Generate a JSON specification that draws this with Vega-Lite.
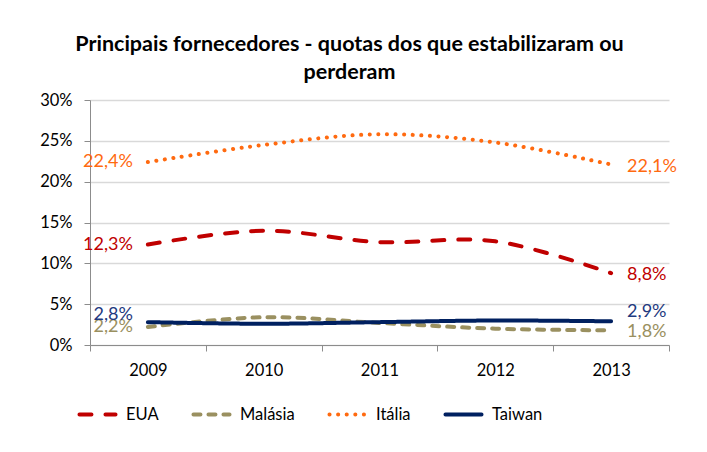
{
  "$schema": "https://vega.github.io/schema/vega-lite/v6.json",
  "width": 579,
  "height": 245,
  "autosize": {"type": "none"},
  "padding": {"left": 90, "top": 100, "right": 38, "bottom": 107},
  "background": "white",
  "config": {
    "locale": {"number": {"decimal": ",", "thousands": ".", "grouping": [3], "currency": ["", " €"]}},
    "font": "Lato",
    "view": {"stroke": null}
  },
  "title": {
    "text": ["Principais fornecedores - quotas dos que  estabilizaram ou", "perderam"],
    "font": "Lato",
    "fontSize": 21.5,
    "fontWeight": "bold",
    "color": "#000000",
    "lineHeight": 28,
    "anchor": "middle",
    "dx": -30,
    "offset": 9
  },
  "data": {
    "values": [
      {"ano": "2009", "serie": "EUA", "v": 0.123},
      {"ano": "2010", "serie": "EUA", "v": 0.140},
      {"ano": "2011", "serie": "EUA", "v": 0.126},
      {"ano": "2012", "serie": "EUA", "v": 0.127},
      {"ano": "2013", "serie": "EUA", "v": 0.088},
      {"ano": "2009", "serie": "Malásia", "v": 0.022},
      {"ano": "2010", "serie": "Malásia", "v": 0.034},
      {"ano": "2011", "serie": "Malásia", "v": 0.027},
      {"ano": "2012", "serie": "Malásia", "v": 0.020},
      {"ano": "2013", "serie": "Malásia", "v": 0.018},
      {"ano": "2009", "serie": "Itália", "v": 0.224},
      {"ano": "2010", "serie": "Itália", "v": 0.245},
      {"ano": "2011", "serie": "Itália", "v": 0.258},
      {"ano": "2012", "serie": "Itália", "v": 0.248},
      {"ano": "2013", "serie": "Itália", "v": 0.221},
      {"ano": "2009", "serie": "Taiwan", "v": 0.028},
      {"ano": "2010", "serie": "Taiwan", "v": 0.026},
      {"ano": "2011", "serie": "Taiwan", "v": 0.028},
      {"ano": "2012", "serie": "Taiwan", "v": 0.030},
      {"ano": "2013", "serie": "Taiwan", "v": 0.029}
    ]
  },
  "encoding": {
    "x": {
      "field": "ano", "type": "ordinal", "bandPosition": 0.5,
      "scale": {"type": "band", "paddingInner": 0, "paddingOuter": 0},
      "axis": {
        "title": null, "labelAngle": 0, "labelFont": "Lato", "labelFontSize": 16.5, "labelColor": "#000000",
        "domainColor": "#8c8c8c", "tickColor": "#8c8c8c", "tickSize": 6, "tickBand": "extent",
        "labelPadding": 11, "grid": false
      }
    },
    "y": {
      "field": "v", "type": "quantitative",
      "scale": {"domain": [0, 0.3]},
      "axis": {
        "title": null, "values": [0, 0.05, 0.1, 0.15, 0.2, 0.25, 0.3], "format": ".0%",
        "labelFont": "Lato", "labelFontSize": 16.5, "labelColor": "#000000",
        "domainColor": "#8c8c8c", "tickColor": "#8c8c8c", "tickSize": 6, "labelPadding": 12,
        "gridColor": "#d9d9d9", "gridWidth": 1.3
      }
    }
  },
  "layer": [
    {
      "mark": {"type": "line", "strokeWidth": 4, "strokeCap": "round", "interpolate": "catmull-rom"},
      "encoding": {
        "color": {
          "field": "serie", "type": "nominal",
          "scale": {"domain": ["EUA", "Malásia", "Itália", "Taiwan"], "range": ["#c00000", "#9a9060", "#ff6a10", "#002060"]},
          "legend": {
            "title": null, "orient": "none", "legendX": -13, "legendY": 294, "direction": "horizontal", "columns": 4,
            "symbolType": "stroke", "symbolSize": 1300, "symbolStrokeWidth": 4, "columnPadding": 26,
            "labelFont": "Lato", "labelFontSize": 16.5, "labelColor": "#000000", "labelOffset": 8,
            "encode": {"symbols": {"update": {"strokeCap": {"value": "round"}}}}
          }
        },
        "strokeDash": {
          "field": "serie", "type": "nominal",
          "scale": {"domain": ["EUA", "Malásia", "Itália", "Taiwan"], "range": [[12, 14], [7, 8], [0.1, 8.5], [1, 0]]},
          "legend": null
        }
      }
    },
    {
      "transform": [{"filter": "datum.ano == '2009' && datum.serie != 'Taiwan'"}],
      "mark": {"type": "text", "align": "right", "baseline": "middle", "dx": -15, "fontSize": 18, "font": "Lato"},
      "encoding": {
        "text": {"field": "v", "type": "quantitative", "format": ".1%"},
        "color": {"field": "serie", "type": "nominal", "legend": null}
      }
    },
    {
      "transform": [{"filter": "datum.ano == '2009' && datum.serie == 'Taiwan'"}],
      "mark": {"type": "text", "align": "right", "baseline": "middle", "dx": -15, "dy": -7, "fontSize": 18, "font": "Lato", "color": "#1f3a80"},
      "encoding": {
        "text": {"field": "v", "type": "quantitative", "format": ".1%"}
      }
    },
    {
      "transform": [{"filter": "datum.ano == '2013' && datum.serie != 'Taiwan'"}],
      "mark": {"type": "text", "align": "left", "baseline": "middle", "dx": 16, "dy": 2, "fontSize": 18, "font": "Lato"},
      "encoding": {
        "text": {"field": "v", "type": "quantitative", "format": ".1%"},
        "color": {"field": "serie", "type": "nominal", "legend": null}
      }
    },
    {
      "transform": [{"filter": "datum.ano == '2013' && datum.serie == 'Taiwan'"}],
      "mark": {"type": "text", "align": "left", "baseline": "middle", "dx": 16, "dy": -9, "fontSize": 18, "font": "Lato", "color": "#1f3a80"},
      "encoding": {
        "text": {"field": "v", "type": "quantitative", "format": ".1%"}
      }
    }
  ]
}
